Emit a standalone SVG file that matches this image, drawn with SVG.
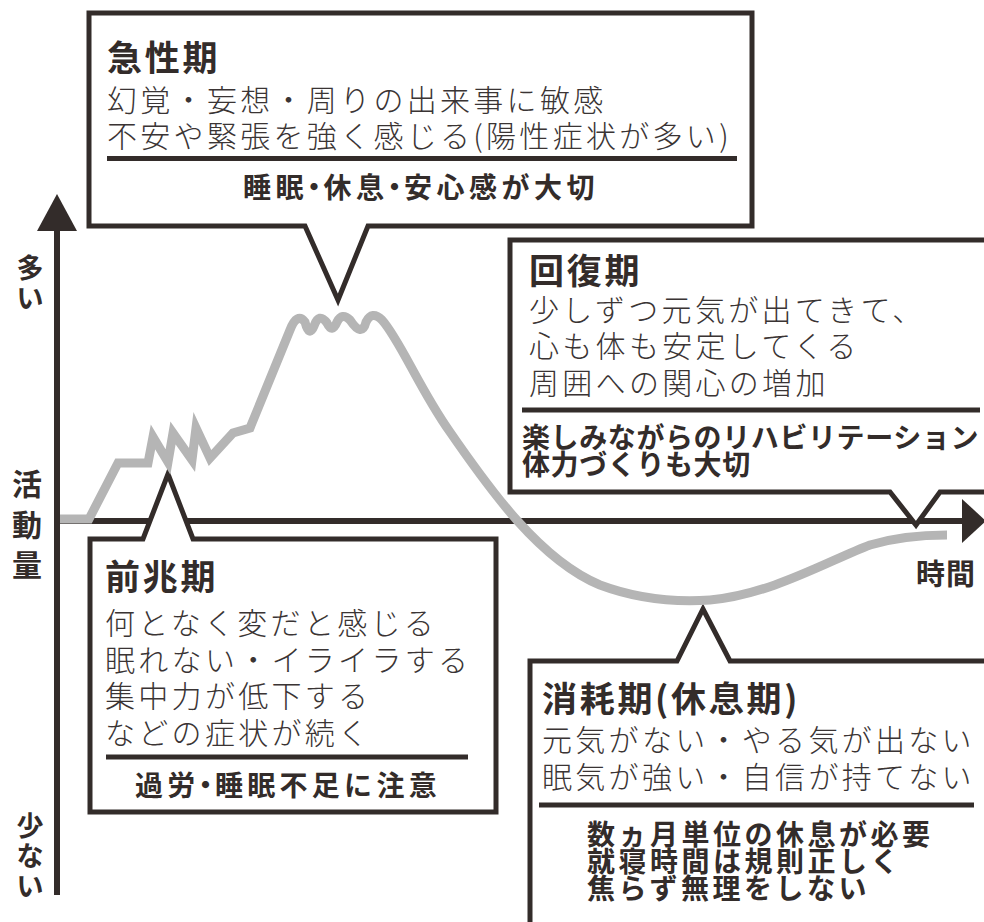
<svg xmlns="http://www.w3.org/2000/svg" width="984" height="922" viewBox="0 0 984 922">
<style>
.box{fill:#fff;stroke:#332c2a;stroke-width:5;stroke-linejoin:miter;stroke-miterlimit:10}
.div{stroke:#332c2a;stroke-width:5}
.ttl{font-family:"Noto Sans CJK JP","Noto Sans",sans-serif;font-weight:700;font-size:35px;letter-spacing:2.7px;fill:#332c2a}
.thin{font-family:"Noto Sans CJK JP","Noto Sans",sans-serif;font-weight:300;font-size:30px;letter-spacing:3.3px;fill:#3a3434}
.bld{font-family:"Noto Sans CJK JP","Noto Sans",sans-serif;font-weight:700;font-size:28px;fill:#332c2a}
.ax{font-family:"Noto Sans CJK JP","Noto Sans",sans-serif;font-weight:700;fill:#332c2a;text-anchor:middle}
</style>
<g id="connectors">
  <line x1="57" y1="895" x2="57" y2="226" stroke="#332c2a" stroke-width="6"/>
  <polygon points="57,194 37,231 77,231" fill="#332c2a"/>
  <line x1="57" y1="521" x2="964" y2="521" stroke="#332c2a" stroke-width="6"/>
  <polygon points="986,521 962,499 962,543" fill="#332c2a"/>
</g>
<g id="axis-labels">
  <text class="ax" font-size="27"><tspan x="30" y="278">多</tspan><tspan x="30" y="308">い</tspan></text>
  <text class="ax" font-size="30"><tspan x="27" y="495">活</tspan><tspan x="27" y="536">動</tspan><tspan x="27" y="576">量</tspan></text>
  <text class="ax" font-size="27"><tspan x="30" y="836">少</tspan><tspan x="30" y="866">な</tspan><tspan x="30" y="896">い</tspan></text>
  <text class="ax" font-size="29" x="946" y="585" letter-spacing="1">時間</text>
</g>
<g id="acute">
  <path class="box" d="M89,13 H752 V226 H368 L338,300 L305,226 H89 Z"/>
  <text class="ttl" x="107" y="71">急性期</text>
  <text class="thin" x="107" y="111">幻覚・妄想・周りの出来事に敏感</text>
  <text class="thin" x="107" y="147">不安や緊張を強く感じる(陽性症状が多い)</text>
  <line class="div" x1="107" y1="158.5" x2="737" y2="158.5"/>
  <text class="bld" x="243" y="198" letter-spacing="4.5">睡眠<tspan dx="-8">・</tspan><tspan dx="-9">休息</tspan><tspan dx="-8">・</tspan><tspan dx="-9">安心感が大切</tspan></text>
</g>
<g id="recovery">
  <path class="box" d="M1000,240 H510 V492 H890 L916,525 L940,492 H1000 Z"/>
  <text class="ttl" x="529" y="284">回復期</text>
  <text class="thin" x="529" y="321" letter-spacing="2.8">少しずつ元気が出てきて、</text>
  <text class="thin" x="529" y="357" letter-spacing="2.8">心も体も安定してくる</text>
  <text class="thin" x="529" y="394" letter-spacing="2.8">周囲への関心の増加</text>
  <line class="div" x1="522" y1="410" x2="980" y2="410"/>
  <text class="bld" x="522" y="448" letter-spacing="0.6">楽しみながらのリハビリテーション</text>
  <text class="bld" x="522" y="475" letter-spacing="0.6">体力づくりも大切</text>
</g>
<g id="prodromal">
  <path class="box" d="M90,539 H143 L168,474 L193,539 H496 V812 H90 Z"/>
  <text class="ttl" x="105" y="590">前兆期</text>
  <text class="thin" x="105" y="634">何となく変だと感じる</text>
  <text class="thin" x="105" y="671">眠れない・イライラする</text>
  <text class="thin" x="105" y="707">集中力が低下する</text>
  <text class="thin" x="105" y="744">などの症状が続く</text>
  <line class="div" x1="106" y1="757" x2="468" y2="757"/>
  <text class="bld" x="135" y="796" letter-spacing="4.3">過労<tspan dx="-8">・</tspan><tspan dx="-9">睡眠不足に注意</tspan></text>
</g>
<g id="exhaustion">
  <path class="box" d="M530,935 V661 H677 L703,609 L730,661 H1000 V935 Z"/>
  <text class="ttl" x="542" y="712" letter-spacing="2.4">消耗期(休息期)</text>
  <text class="thin" x="542" y="751">元気がない・やる気が出ない</text>
  <text class="thin" x="542" y="788">眠気が強い・自信が持てない</text>
  <line class="div" x1="539" y1="805" x2="974" y2="805"/>
  <text class="bld" x="587" y="845" letter-spacing="3.5">数ヵ月単位の休息が必要</text>
  <text class="bld" x="587" y="872" letter-spacing="3.5">就寝時間は規則正しく</text>
  <text class="bld" x="587" y="899" letter-spacing="3.5">焦らず無理をしない</text>
</g>
<g id="curve">
  <path fill="none" stroke="#b5b5b5" stroke-width="9" stroke-linejoin="miter" stroke-miterlimit="10" d="M60,519 L89,519 L118,463 L148,463 L153,437 L168,462 L173,433 L192,460 L196,428 L210,458 L233,433 L250,428 L290,330 Q297,312 305,322 Q309,338 314,326 Q319,312 327,323 Q332,334 337,322 Q342,312 350,320 Q362,338 366,322 Q372,310 382,320 C400,340 420,390 450,432 C490,490 540,560 600,585 C640,600 680,602 710,600 C770,595 830,560 870,545 C900,536 925,535 947,535"/>
</g>
</svg>
